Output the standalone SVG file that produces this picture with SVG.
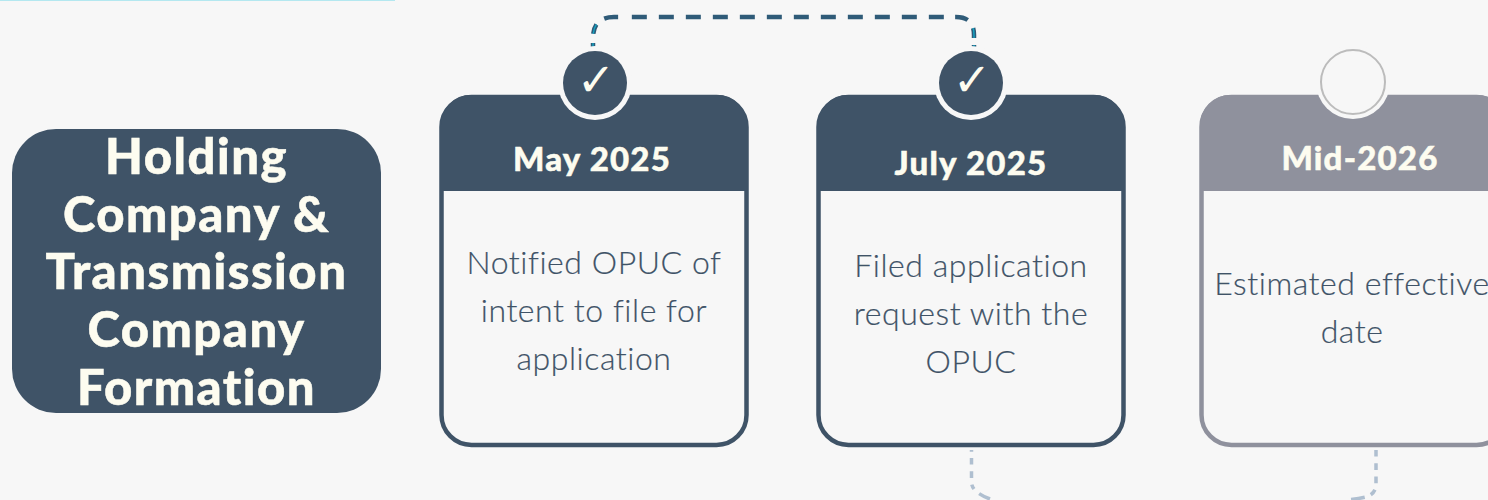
<svg xmlns="http://www.w3.org/2000/svg" width="1488" height="500" viewBox="0 0 1488 500">
<style>
text{font-variant-ligatures:none}
.bold{font-family:"Lato","Liberation Sans",sans-serif;font-weight:900;fill:#fdfcf0;stroke:#fdfcf0;stroke-width:.5px;text-anchor:middle}
.title{font-size:49px;letter-spacing:1.5px}
.date{font-size:33px;letter-spacing:1.2px}
.body{font-family:"Lato","Liberation Sans",sans-serif;font-weight:300;font-size:32px;letter-spacing:.55px;fill:#3f5367;stroke:#3f5367;stroke-width:.2px;text-anchor:middle}
.check{font-family:"DejaVu Sans",sans-serif;font-size:46px;fill:#fdfcf0;text-anchor:middle}
.ring{fill:#f7f7f7}
.frame{fill:#f7f7f7;stroke-width:4.5}
.dk{stroke:#3f5367}
.gy{stroke:#8f919d}
.link{fill:none}
.top{stroke-dasharray:8 9 10 10 14 13.700 15 12 15 12 15 12 15 12 15 12 15 12 15 12 15 12 15 12 15 12 15 12 15 11.300 13 10 10 7 10 20}
.low{stroke:#afbfd0;stroke-width:3.5}
</style>
<defs>
<clipPath id="sides"><rect x="585" y="22" width="400" height="30"/></clipPath>
</defs>
<rect width="1488" height="500" fill="#f7f7f7"/>
<rect x="0" y="0" width="395" height="1" fill="#b4e8f0"/>
<g id="connectors">
<path class="link top" d="M593 51V38Q593 17 614 17H956Q974 17 974 35V51" stroke="#2f5b78" stroke-width="4.500"/>
<path class="link top" d="M593 51V38Q593 17 614 17H956Q974 17 974 35V51" stroke="#14a5c4" stroke-width="1.400" clip-path="url(#sides)"/>
<path class="link low" d="M971.500 450V482Q971.500 492 990 499" stroke-dasharray="1.700 6.300 6.600 6.700 6.600 6.700 5 7 14 20"/>
<path class="link low" d="M1376 450V484Q1376 494 1366 497Q1358 499 1345 500" stroke-dasharray="6.600 6.700 6.600 6.700 6.600 6.700 6.600 6.700 14 20"/>
</g>
<g id="title-node">
<rect x="12" y="129" width="369" height="284" rx="44" fill="#3f5367"/>
<text class="bold title" x="196.500" y="173.500">Holding</text>
<text class="bold title" x="196.500" y="231.500">Company &amp;</text>
<text class="bold title" x="196.500" y="288.500">Transmission</text>
<text class="bold title" x="196.500" y="346.500">Company</text>
<text class="bold title" x="196.500" y="404.500">Formation</text>
</g>
<g id="card-may-2025">
<rect class="frame dk" x="441.500" y="97" width="305" height="348" rx="30"/>
<path d="M441 191V125A30 30 0 0 1 471 95H717A30 30 0 0 1 747 125V191Z" fill="#3f5367"/>
<circle class="ring" cx="595" cy="83" r="37"/>
<circle cx="595" cy="83" r="32" fill="#3f5367"/>
<text class="check" x="596" y="96">✓</text>
<text class="bold date" x="592" y="171">May 2025</text>
<text class="body" x="594" y="274">Notified OPUC of</text>
<text class="body" x="594" y="322">intent to file for</text>
<text class="body" x="594" y="370">application</text>
</g>
<g id="card-july-2025">
<rect class="frame dk" x="818.500" y="97" width="305" height="348" rx="30"/>
<path d="M818 191V125A30 30 0 0 1 848 95H1094A30 30 0 0 1 1124 125V191Z" fill="#3f5367"/>
<circle class="ring" cx="971" cy="83" r="37"/>
<circle cx="971" cy="83" r="32" fill="#3f5367"/>
<text class="check" x="972" y="96">✓</text>
<text class="bold date" x="971" y="175">July 2025</text>
<text class="body" x="971" y="277">Filed application</text>
<text class="body" x="971" y="325">request with the</text>
<text class="body" x="971" y="373">OPUC</text>
</g>
<g id="card-mid-2026">
<rect class="frame gy" x="1201.500" y="97" width="305" height="348" rx="30"/>
<path d="M1200 191V125A30 30 0 0 1 1230 95H1477A30 30 0 0 1 1507 125V191Z" fill="#8f919d"/>
<circle class="ring" cx="1353" cy="82" r="37"/>
<circle cx="1353" cy="82" r="32" fill="#f7f7f7" stroke="#bcbcbc" stroke-width="2"/>
<text class="bold date" x="1360" y="170">Mid-2026</text>
<text class="body" x="1352" y="295">Estimated effective</text>
<text class="body" x="1352" y="343">date</text>
</g>
</svg>
